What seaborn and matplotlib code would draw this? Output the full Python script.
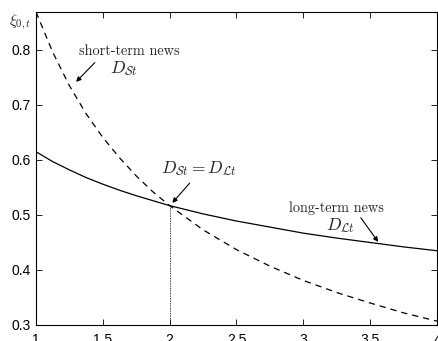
import matplotlib

matplotlib.use("Agg")
import matplotlib.pyplot as plt
import pandas as pd
import seaborn as sns

# values
horizon = [1, 1.125, 1.25, 1.375, 1.5, 1.625, 1.75, 1.875, 2,
           2.25, 2.5, 2.75, 3, 3.25, 3.5, 3.75, 4]
short_term = [0.869, 0.796, 0.735, 0.684, 0.641, 0.604, 0.571, 0.542, 0.517,
              0.473, 0.437, 0.407, 0.381, 0.359, 0.340, 0.322, 0.307]
long_term = [0.615, 0.597, 0.582, 0.568, 0.556, 0.545, 0.535, 0.526, 0.517,
             0.502, 0.489, 0.478, 0.467, 0.458, 0.450, 0.442, 0.435]
cross_x, cross_y = 2, 0.517
x_ticks = [1, 1.5, 2, 2.5, 3, 3.5, 4]
y_ticks = [0.3, 0.4, 0.5, 0.6, 0.7, 0.8]

sns.set_theme(style="ticks")
plt.rcParams["font.family"] = ["Liberation Sans", "DejaVu Sans"]
plt.rcParams["mathtext.fontset"] = "cm"

df = pd.DataFrame({"x": horizon, "short": short_term, "long": long_term})

fig = plt.figure(figsize=(4.38, 3.41), dpi=100)
ax = fig.add_axes([36 / 438, 16 / 341, 401 / 438, 313 / 341])

sns.lineplot(data=df, x="x", y="long", ax=ax, color="black", lw=0.9)
sns.lineplot(data=df, x="x", y="short", ax=ax, color="black", lw=0.9)
ax.lines[-1].set_dashes([5, 4])
ax.plot([cross_x, cross_x], [0.3, cross_y], color="black", lw=0.6, ls=(0, (1, 1)))

ax.set_xlim(1, 4)
ax.set_ylim(0.3, 0.869)
ax.set_xticks(x_ticks)
ax.set_xticklabels(["1", "1.5", "2", "2.5", "3", "3.5", "4"])
ax.set_yticks(y_ticks)
ax.set_yticklabels(["0.3", "0.4", "0.5", "0.6", "0.7", "0.8"])
ax.set_xlabel("")
ax.set_ylabel("")
ax.tick_params(direction="in", length=4, width=0.6, labelsize=10, pad=4,
               top=True, right=True, colors="black")
ax.tick_params(axis="x", pad=6)
for sp in ax.spines.values():
    sp.set_linewidth(0.8)
    sp.set_color("black")

fig.text(20 / 438, 1 - 22 / 341, r"$\xi_{0,t}$", fontsize=11, ha="center", va="center")

serif = dict(family="cmr10", fontsize=10.3, ha="center", va="center")
mathd = dict(fontsize=12.5, ha="center", va="center")
arrow = dict(arrowstyle="-|>", color="black", lw=0.8, mutation_scale=7,
             shrinkA=0, shrinkB=0)

# short-term label
ax.text(1.70, 0.798, "short-term news", **serif)
ax.text(1.66, 0.767, r"$D_{\mathcal{S}t}$", **mathd)
ax.annotate("", xy=(1.30, 0.742), xytext=(1.44, 0.777), arrowprops=arrow)

# crossing label
ax.text(2.22, 0.585, r"$D_{\mathcal{S}t} = D_{\mathcal{L}t}$", **mathd)
ax.annotate("", xy=(2.02, 0.522), xytext=(2.15, 0.558), arrowprops=arrow)

# long-term label
ax.text(3.25, 0.513, "long-term news", **serif)
ax.text(3.28, 0.480, r"$D_{\mathcal{L}t}$", **mathd)
ax.annotate("", xy=(3.56, 0.451), xytext=(3.43, 0.495), arrowprops=arrow)

fig.savefig("out.png", dpi=100)
